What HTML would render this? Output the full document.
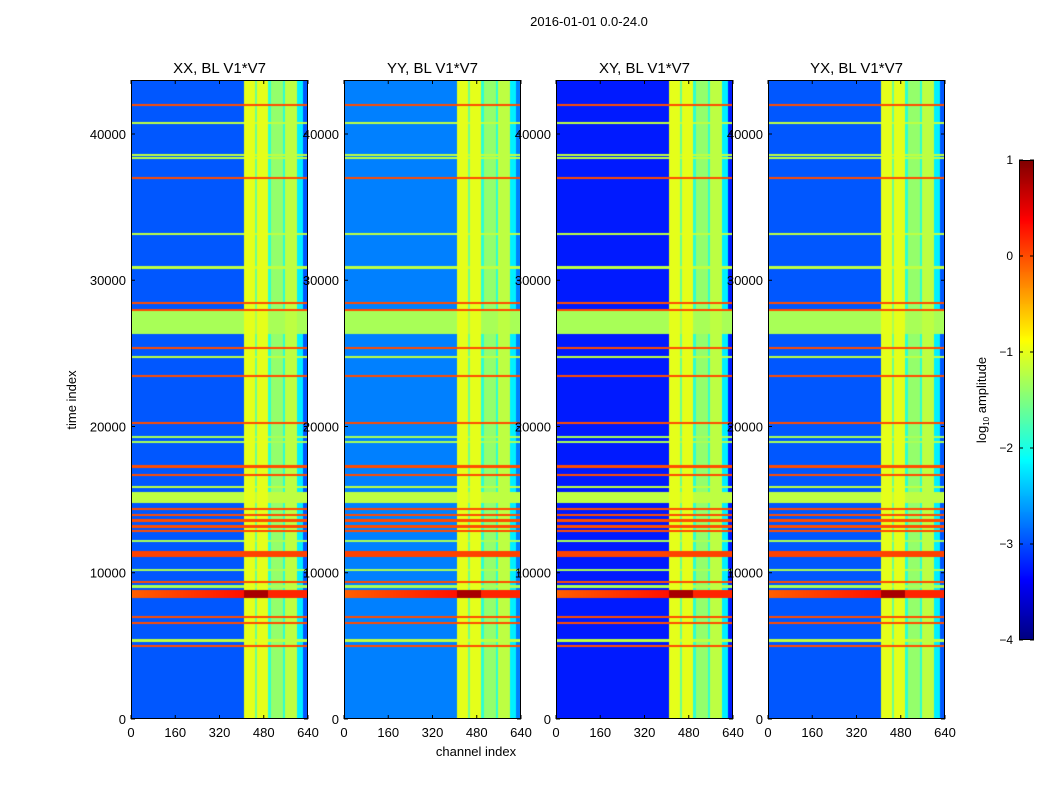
<!DOCTYPE html>
<html><head><meta charset="utf-8"><style>
body{margin:0;background:#fff;width:1050px;height:800px;overflow:hidden;font-family:"Liberation Sans",sans-serif}
#wrap{position:relative;width:1050px;height:800px}
canvas{position:absolute}
svg{position:absolute;left:0;top:0}
</style></head><body>
<div id="wrap">
<svg id="ov" width="1050" height="800"></svg>
</div>
<script>
const panelTitles=["XX, BL V1*V7","YY, BL V1*V7","XY, BL V1*V7","YX, BL V1*V7"];
const panelBase=[-2.95,-2.75,-3.25,-2.95];
const bandStart=[407,449,455,496,505,550,557,600];
const bandEnd=[449,455,496,505,550,557,600,622];
const bandLevel=[-1.0,-1.6,-1.0,-1.9,-1.4,-1.9,-1.2,-2.2];
const rfiTimes=[42000,40800,38600,38400,37000,33200,30900,28500,28000,25400,24800,23500,20300,19300,19000,17300,16700,15900,14400,14000,13600,13200,12900,12200,11300,10200,9400,9100,7000,6600,5400,5000];
const rfiLevels=[0,-1.2,-1.2,-1.2,0,-1.2,-1.2,0,0,0,-1.2,0,0,-1.3,-1.3,0,0,-1.2,0,0,0,0,0,-1.3,0.05,-1.3,0,-1.3,0,0,-1.2,0];
const wideStart=[26300,14800,11100,8300];
const wideEnd=[28000,15500,11500,8800];
const wideLevel=[-1.3,-1.2,0.05,0.2];
const xTicks=[0,160,320,480,640];
const yTicks=[0,10000,20000,30000,40000];
const cbTicks=[1,0,-1,-2,-3,-4];
const panelX=[131,344,556,768];
const PW=177,Y0=80,Y1=719,TMAX=43692,CMAX=640;
const xs=(p,c)=>panelX[p]+c/CMAX*PW;
const ys=t=>Y1-t/TMAX*(Y1-Y0);
function jet(v){let t=(v+4)/5;t=Math.max(0,Math.min(1,t));
 const c=x=>Math.round(255*Math.max(0,Math.min(1,x)));
 return [c(1.5-Math.abs(4*t-3)),c(1.5-Math.abs(4*t-2)),c(1.5-Math.abs(4*t-1))];}
const wrap=document.getElementById('wrap');
const NS="http://www.w3.org/2000/svg";
const ov=document.getElementById('ov');
function el(tag,attrs,txt){const e=document.createElementNS(NS,tag);for(const k in attrs)e.setAttribute(k,attrs[k]);if(txt!==undefined)e.textContent=txt;ov.appendChild(e);return e;}
for(let p=0;p<4;p++){
 const cv=document.createElement('canvas');
 
 
 cv.width=PW;cv.height=Y1-Y0;cv.style.left=panelX[p]+'px';cv.style.top=Y0+'px';
 wrap.insertBefore(cv,ov);
 const ctx=cv.getContext('2d');const img=ctx.createImageData(PW,Y1-Y0);
 for(let py=0;py<Y1-Y0;py++){
  const t=(Y1-Y0-py-0.5)/(Y1-Y0)*TMAX;
  let row=-99,wide=-99,inWide=false;
  for(let i=0;i<rfiTimes.length;i++)if(Math.abs(ys(rfiTimes[i])-Y0-py)<1.1)row=Math.max(row,rfiLevels[i]);
  for(let i=0;i<wideStart.length;i++)if(t>=wideStart[i]&&t<=wideEnd[i]){wide=Math.max(wide,wideLevel[i]);inWide=i==3;}
  for(let px=0;px<PW;px++){
   const ch=(px+0.5)/PW*CMAX;
   let v=panelBase[p];
   for(let b=0;b<bandStart.length;b++)if(ch>=bandStart[b]&&ch<bandEnd[b])v=Math.max(v,bandLevel[b]);
   v=Math.max(v,row,wide);
   if(inWide){ if(ch>=bandStart[0]&&ch<bandEnd[2])v=0.8; else if(ch<bandStart[0]) v=0.3-0.4*(1-ch/bandStart[0]); }
   const c=jet(v),k=(py*PW+px)*4;
   img.data[k]=c[0];img.data[k+1]=c[1];img.data[k+2]=c[2];img.data[k+3]=255;
  }}
 ctx.putImageData(img,0,0);
 const fr=el('rect',{x:panelX[p]+0.5,y:Y0+0.5,width:PW-1,height:Y1-Y0-1,fill:'none',stroke:'#000','stroke-width':1});
 
 const ti=el('text',{x:panelX[p]+PW/2,y:73,'text-anchor':'middle','font-size':15},panelTitles[p]);
 
 for(const v of xTicks){const x=xs(p,v);
  el('line',{x1:x,x2:x,y1:Y1,y2:Y1-4,stroke:'#000'});el('line',{x1:x,x2:x,y1:Y0,y2:Y0+4,stroke:'#000'});
  const tl=el('text',{x:x,y:737,'text-anchor':'middle','font-size':13},v);
  }
 for(const v of yTicks){const y=ys(v);
  el('line',{x1:panelX[p],x2:panelX[p]+4,y1:y,y2:y,stroke:'#000'});el('line',{x1:panelX[p]+PW,x2:panelX[p]+PW-4,y1:y,y2:y,stroke:'#000'});
  const tl=el('text',{x:panelX[p]-5,y:y+5,'text-anchor':'end','font-size':13},v);
  }
}
const CBX=1019,CBW=15,CB0=160,CB1=640;
const cbs=v=>CB1-(v+4)/5*(CB1-CB0);
const cbc=document.createElement('canvas');


cbc.width=CBW;cbc.height=CB1-CB0;cbc.style.left=CBX+'px';cbc.style.top=CB0+'px';
wrap.insertBefore(cbc,ov);
const cx=cbc.getContext('2d');
for(let i=0;i<CB1-CB0;i++){const c=jet(1-(i+0.5)/(CB1-CB0)*5);cx.fillStyle=`rgb(${c[0]},${c[1]},${c[2]})`;cx.fillRect(0,i,CBW,1);}
el('rect',{x:CBX+0.5,y:CB0+0.5,width:CBW-1,height:CB1-CB0-1,fill:'none',stroke:'#000'});
for(const v of cbTicks){const y=cbs(v);
 el('line',{x1:CBX,x2:CBX+4,y1:y,y2:y,stroke:'#000'});el('line',{x1:CBX+CBW,x2:CBX+CBW-4,y1:y,y2:y,stroke:'#000'});
 const tl=el('text',{x:1013,y:y+4,'text-anchor':'end','font-size':12},v<0?'\u2212'+(-v):v);
 }
const cl=el('text',{x:986,y:400,'text-anchor':'middle','font-size':13,transform:'rotate(-90 986 400)'});

cl.innerHTML='log<tspan font-size="8" dy="3">10</tspan><tspan dy="-3"> amplitude</tspan>';
const st=el('text',{x:589,y:26,'text-anchor':'middle','font-size':13},'2016-01-01 0.0-24.0');

const xl=el('text',{x:476,y:756,'text-anchor':'middle','font-size':13},'channel index');

const yl=el('text',{x:76,y:400,'text-anchor':'middle','font-size':13,transform:'rotate(-90 76 400)'},'time index');

</script>
</body></html>
